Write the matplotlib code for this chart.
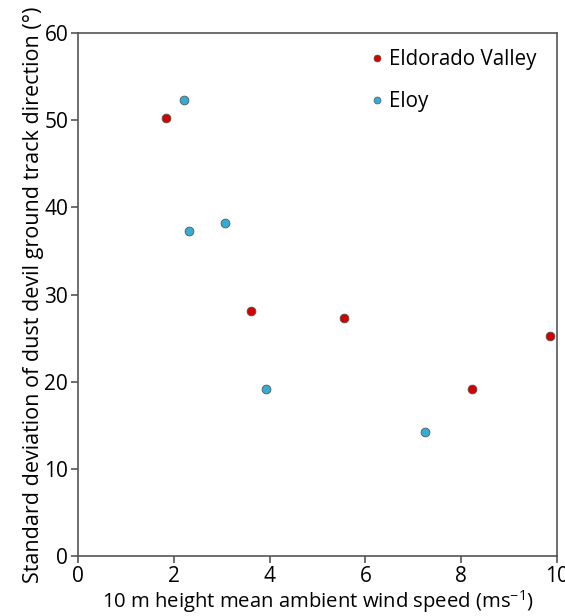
import matplotlib
matplotlib.use("Agg")
import matplotlib.pyplot as plt
from matplotlib.lines import Line2D

plt.rcParams['font.family'] = ['Open Sans', 'DejaVu Sans']

eldorado_x = [1.83, 3.62, 5.55, 8.22, 9.85]
eldorado_y = [50.2, 28.1, 27.3, 19.2, 25.2]
eloy_x = [2.22, 2.32, 3.07, 3.93, 7.25]
eloy_y = [52.3, 37.3, 38.2, 19.2, 14.2]
xticks = [0, 2, 4, 6, 8, 10]
yticks = [0, 10, 20, 30, 40, 50, 60]

fig = plt.figure(figsize=(5.65, 6.16), dpi=100)
ax = fig.add_axes([0.138, 0.0974, 0.848, 0.849])

red = '#d40000'
blue = '#35acd4'
ax.scatter(eldorado_x, eldorado_y, s=40, c=red, edgecolors='#555555', linewidths=0.6, zorder=3)
ax.scatter(eloy_x, eloy_y, s=40, c=blue, edgecolors='#555555', linewidths=0.6, zorder=3)

ax.set_xlim(0, 10)
ax.set_ylim(0, 60)
ax.set_xticks(xticks)
ax.set_yticks(yticks)
for s in ax.spines.values():
    s.set_color('#555555')
    s.set_linewidth(1.2)
ax.tick_params(direction='out', length=5, width=1.2, color='#555555', labelsize=15, pad=2)

ax.set_xlabel('10 m height mean ambient wind speed (ms$^{\\mathregular{-1}}$)', fontsize=14.6, labelpad=1)
ax.set_ylabel('Standard deviation of dust devil ground track direction (°)', fontsize=15.5, labelpad=0)

handles = [Line2D([], [], marker='o', ls='', markersize=5, markerfacecolor=red, markeredgecolor='#555555', markeredgewidth=0.5),
           Line2D([], [], marker='o', ls='', markersize=5, markerfacecolor=blue, markeredgecolor='#555555', markeredgewidth=0.5)]
ax.legend(handles, ['Eldorado Valley', 'Eloy'], loc='upper left', bbox_to_anchor=(0.565, 1.005),
          frameon=False, fontsize=14.8, handletextpad=0.05, labelspacing=1.05, handlelength=1.0)

fig.savefig('out.png', dpi=100)
